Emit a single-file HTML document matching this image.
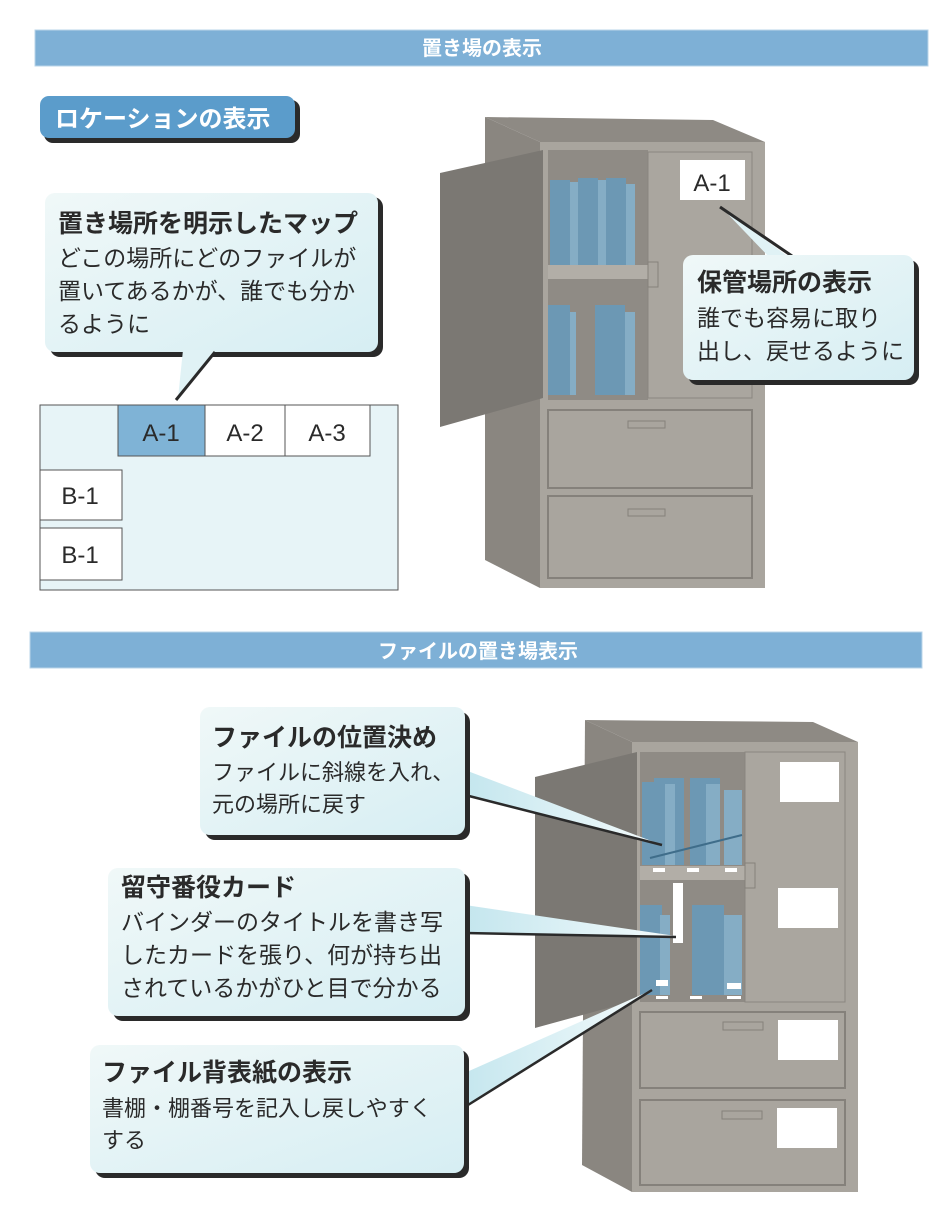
<!DOCTYPE html>
<html><head><meta charset="utf-8"><style>
html,body{margin:0;padding:0;background:#fff}
svg{display:block}
text{font-family:"Liberation Sans","Noto Sans CJK JP",sans-serif;fill:#2a2a2a}
</style></head><body>
<svg width="942" height="1220" viewBox="0 0 942 1220" xmlns="http://www.w3.org/2000/svg">
<defs>
<linearGradient id="cg" x1="0" y1="0" x2="1" y2="1"><stop offset="0" stop-color="#f0f8f8"/><stop offset="1" stop-color="#d6eef3"/></linearGradient>
<linearGradient id="wg" x1="0" y1="0" x2="1" y2="0"><stop offset="0" stop-color="#c4e6ee"/><stop offset="1" stop-color="#f4fbfc"/></linearGradient>
</defs>
<!-- headers -->
<rect x="35" y="30" width="893" height="36" fill="#7eb0d6" stroke="#b9d4e8"/>
<text x="482" y="55" text-anchor="middle" font-size="20" font-weight="bold" style="fill:#fff">置き場の表示</text>
<rect x="30" y="632" width="892" height="36" fill="#7eb0d6" stroke="#b9d4e8"/>
<text x="478" y="658" text-anchor="middle" font-size="20" font-weight="bold" style="fill:#fff">ファイルの置き場表示</text>
<!-- tab -->
<rect x="44" y="100" width="256" height="43" rx="9" fill="#2a2a2a"/>
<rect x="40" y="96" width="255" height="42" rx="9" fill="#5b9ccb"/>
<text x="55" y="127" font-size="24" font-weight="bold" style="fill:#fff">ロケーションの表示</text>
<!-- callout 1 -->
<rect x="50" y="197" width="333" height="160" rx="10" fill="#2a2a2a"/>
<rect x="45" y="193" width="333" height="159" rx="10" fill="url(#cg)"/>
<polygon points="183,350 215,350 178,398" fill="#e0f2f5"/>
<line x1="215" y1="352" x2="176" y2="400" stroke="#2a2a2a" stroke-width="3"/>
<text x="58" y="232" font-size="25" font-weight="bold">置き場所を明示したマップ</text>
<text x="58" y="266" font-size="23">どこの場所にどのファイルが</text>
<text x="58" y="299" font-size="23">置いてあるかが、誰でも分か</text>
<text x="58" y="332" font-size="23">るように</text>
<!-- map -->
<rect x="40" y="405" width="358" height="185" fill="#e7f4f7" stroke="#555"/>
<rect x="118" y="405" width="87" height="51" fill="#7fb3d6" stroke="#555"/>
<rect x="205" y="405" width="80" height="51" fill="#fff" stroke="#555"/>
<rect x="285" y="405" width="85" height="51" fill="#fff" stroke="#555"/>
<rect x="40" y="470" width="82" height="50" fill="#fff" stroke="#555"/>
<rect x="40" y="528" width="82" height="52" fill="#fff" stroke="#555"/>
<g font-size="24" text-anchor="middle"><text x="161" y="441">A-1</text><text x="245" y="441">A-2</text><text x="327" y="441">A-3</text><text x="80" y="504">B-1</text><text x="80" y="563">B-1</text></g>
<!-- cabinet 1 -->
<polygon points="485,117 713,120 765,142 540,142" fill="#8e8a84"/>
<polygon points="485,117 540,142 540,588 485,560" fill="#8a8680"/>
<rect x="540" y="142" width="225" height="446" fill="#a9a59e"/>
<rect x="548" y="150" width="100" height="250" fill="#8f8b85"/>
<rect x="648" y="152" width="104" height="246" fill="#aaa69f" stroke="#8a8680"/>
<rect x="548" y="265" width="100" height="14" fill="#b2aea7"/>
<rect x="648" y="262" width="10" height="25" fill="none" stroke="#85817b"/>
<g fill="#6c98b4"><rect x="550" y="180" width="20" height="85"/><rect x="578" y="178" width="20" height="87"/><rect x="606" y="178" width="20" height="87"/><rect x="548" y="305" width="22" height="90"/><rect x="595" y="305" width="30" height="90"/></g>
<g fill="#85adc5"><rect x="570" y="182" width="8" height="83"/><rect x="598" y="180" width="8" height="85"/><rect x="626" y="184" width="9" height="81"/><rect x="570" y="312" width="6" height="83"/><rect x="625" y="312" width="10" height="83"/></g>
<polygon points="440,173 543,150 543,398 440,427" fill="#7b7873"/>
<rect x="548" y="410" width="204" height="78" fill="none" stroke="#85817b" stroke-width="2"/>
<rect x="548" y="496" width="204" height="82" fill="none" stroke="#85817b" stroke-width="2"/>
<rect x="628" y="421" width="37" height="7" fill="none" stroke="#85817b"/>
<rect x="628" y="509" width="37" height="7" fill="none" stroke="#85817b"/>
<rect x="680" y="160" width="65" height="40" fill="#fff"/>
<text x="712" y="191" text-anchor="middle" font-size="24">A-1</text>
<!-- callout 2 -->
<polygon points="722,208 790,258 770,258" fill="#e0f2f5"/>
<line x1="720" y1="207" x2="792" y2="256" stroke="#2a2a2a" stroke-width="3"/>
<rect x="688" y="260" width="231" height="125" rx="10" fill="#2a2a2a"/>
<rect x="683" y="255" width="231" height="125" rx="10" fill="url(#cg)"/>
<text x="697" y="291" font-size="25" font-weight="bold">保管場所の表示</text>
<text x="697" y="326" font-size="23">誰でも容易に取り</text>
<text x="697" y="359" font-size="23">出し、戻せるように</text>
<!-- cabinet 2 -->
<polygon points="585,720 813,722 858,742 632,742" fill="#8e8a84"/>
<polygon points="585,720 632,742 632,1192 582,1165" fill="#8a8680"/>
<rect x="632" y="742" width="226" height="450" fill="#a9a59e"/>
<rect x="640" y="752" width="105" height="250" fill="#8f8b85"/>
<rect x="745" y="752" width="100" height="250" fill="#aaa69f" stroke="#8a8680"/>
<rect x="640" y="866" width="105" height="14" fill="#b2aea7"/>
<rect x="745" y="863" width="10" height="25" fill="none" stroke="#85817b"/>
<g fill="#6c98b4"><rect x="642" y="782" width="12" height="83"/><rect x="654" y="778" width="30" height="87"/><rect x="690" y="778" width="30" height="87"/><rect x="640" y="905" width="22" height="90"/><rect x="692" y="905" width="32" height="90"/></g>
<g fill="#85adc5"><rect x="665" y="784" width="10" height="81"/><rect x="706" y="784" width="14" height="81"/><rect x="724" y="790" width="18" height="75"/><rect x="660" y="915" width="10" height="80"/><rect x="724" y="915" width="18" height="80"/></g>
<line x1="650" y1="858" x2="742" y2="835" stroke="#3f6d8a" stroke-width="2"/>
<g fill="#fff"><rect x="653" y="868" width="12" height="4"/><rect x="687" y="868" width="12" height="4"/><rect x="725" y="868" width="12" height="4"/><rect x="673" y="883" width="10" height="60"/><rect x="656" y="980" width="12" height="6"/><rect x="727" y="983" width="14" height="6"/><rect x="656" y="996" width="12" height="3"/><rect x="690" y="996" width="12" height="3"/><rect x="727" y="996" width="14" height="3"/></g>
<polygon points="535,777 637,752 637,1000 535,1028" fill="#7b7873"/>
<rect x="640" y="1012" width="205" height="76" fill="none" stroke="#85817b" stroke-width="2"/>
<rect x="640" y="1100" width="205" height="85" fill="none" stroke="#85817b" stroke-width="2"/>
<rect x="723" y="1022" width="40" height="8" fill="none" stroke="#85817b"/>
<rect x="722" y="1111" width="40" height="8" fill="none" stroke="#85817b"/>
<g fill="#fff"><rect x="780" y="762" width="59" height="40"/><rect x="778" y="888" width="60" height="40"/><rect x="778" y="1020" width="60" height="40"/><rect x="777" y="1108" width="60" height="40"/></g>
<!-- wedges -->
<polygon points="465,770 465,795 662,845" fill="url(#wg)"/><line x1="465" y1="795" x2="662" y2="845" stroke="#2a2a2a" stroke-width="2.5"/>
<polygon points="465,905 465,933 676,936" fill="url(#wg)"/><line x1="465" y1="933" x2="676" y2="937" stroke="#2a2a2a" stroke-width="2.5"/>
<polygon points="460,1075 460,1110 652,990" fill="url(#wg)"/><line x1="460" y1="1110" x2="652" y2="990" stroke="#2a2a2a" stroke-width="2.5"/>
<!-- callout 3 -->
<rect x="205" y="712" width="265" height="128" rx="10" fill="#2a2a2a"/>
<rect x="200" y="707" width="265" height="128" rx="10" fill="url(#cg)"/>
<text x="212" y="746" font-size="25" font-weight="bold">ファイルの位置決め</text>
<text x="212" y="780" font-size="22">ファイルに斜線を入れ、</text>
<text x="212" y="812" font-size="22">元の場所に戻す</text>
<!-- callout 4 -->
<rect x="113" y="873" width="357" height="148" rx="10" fill="#2a2a2a"/>
<rect x="108" y="868" width="357" height="148" rx="10" fill="url(#cg)"/>
<text x="121" y="896" font-size="25" font-weight="bold">留守番役カード</text>
<text x="121" y="930" font-size="23">バインダーのタイトルを書き写</text>
<text x="121" y="963" font-size="23">したカードを張り、何が持ち出</text>
<text x="121" y="996" font-size="23">されているかがひと目で分かる</text>
<!-- callout 5 -->
<rect x="95" y="1050" width="374" height="128" rx="10" fill="#2a2a2a"/>
<rect x="90" y="1045" width="374" height="128" rx="10" fill="url(#cg)"/>
<text x="102" y="1081" font-size="25" font-weight="bold">ファイル背表紙の表示</text>
<text x="102" y="1116" font-size="22">書棚・棚番号を記入し戻しやすく</text>
<text x="102" y="1148" font-size="22">する</text>
</svg>
</body></html>
